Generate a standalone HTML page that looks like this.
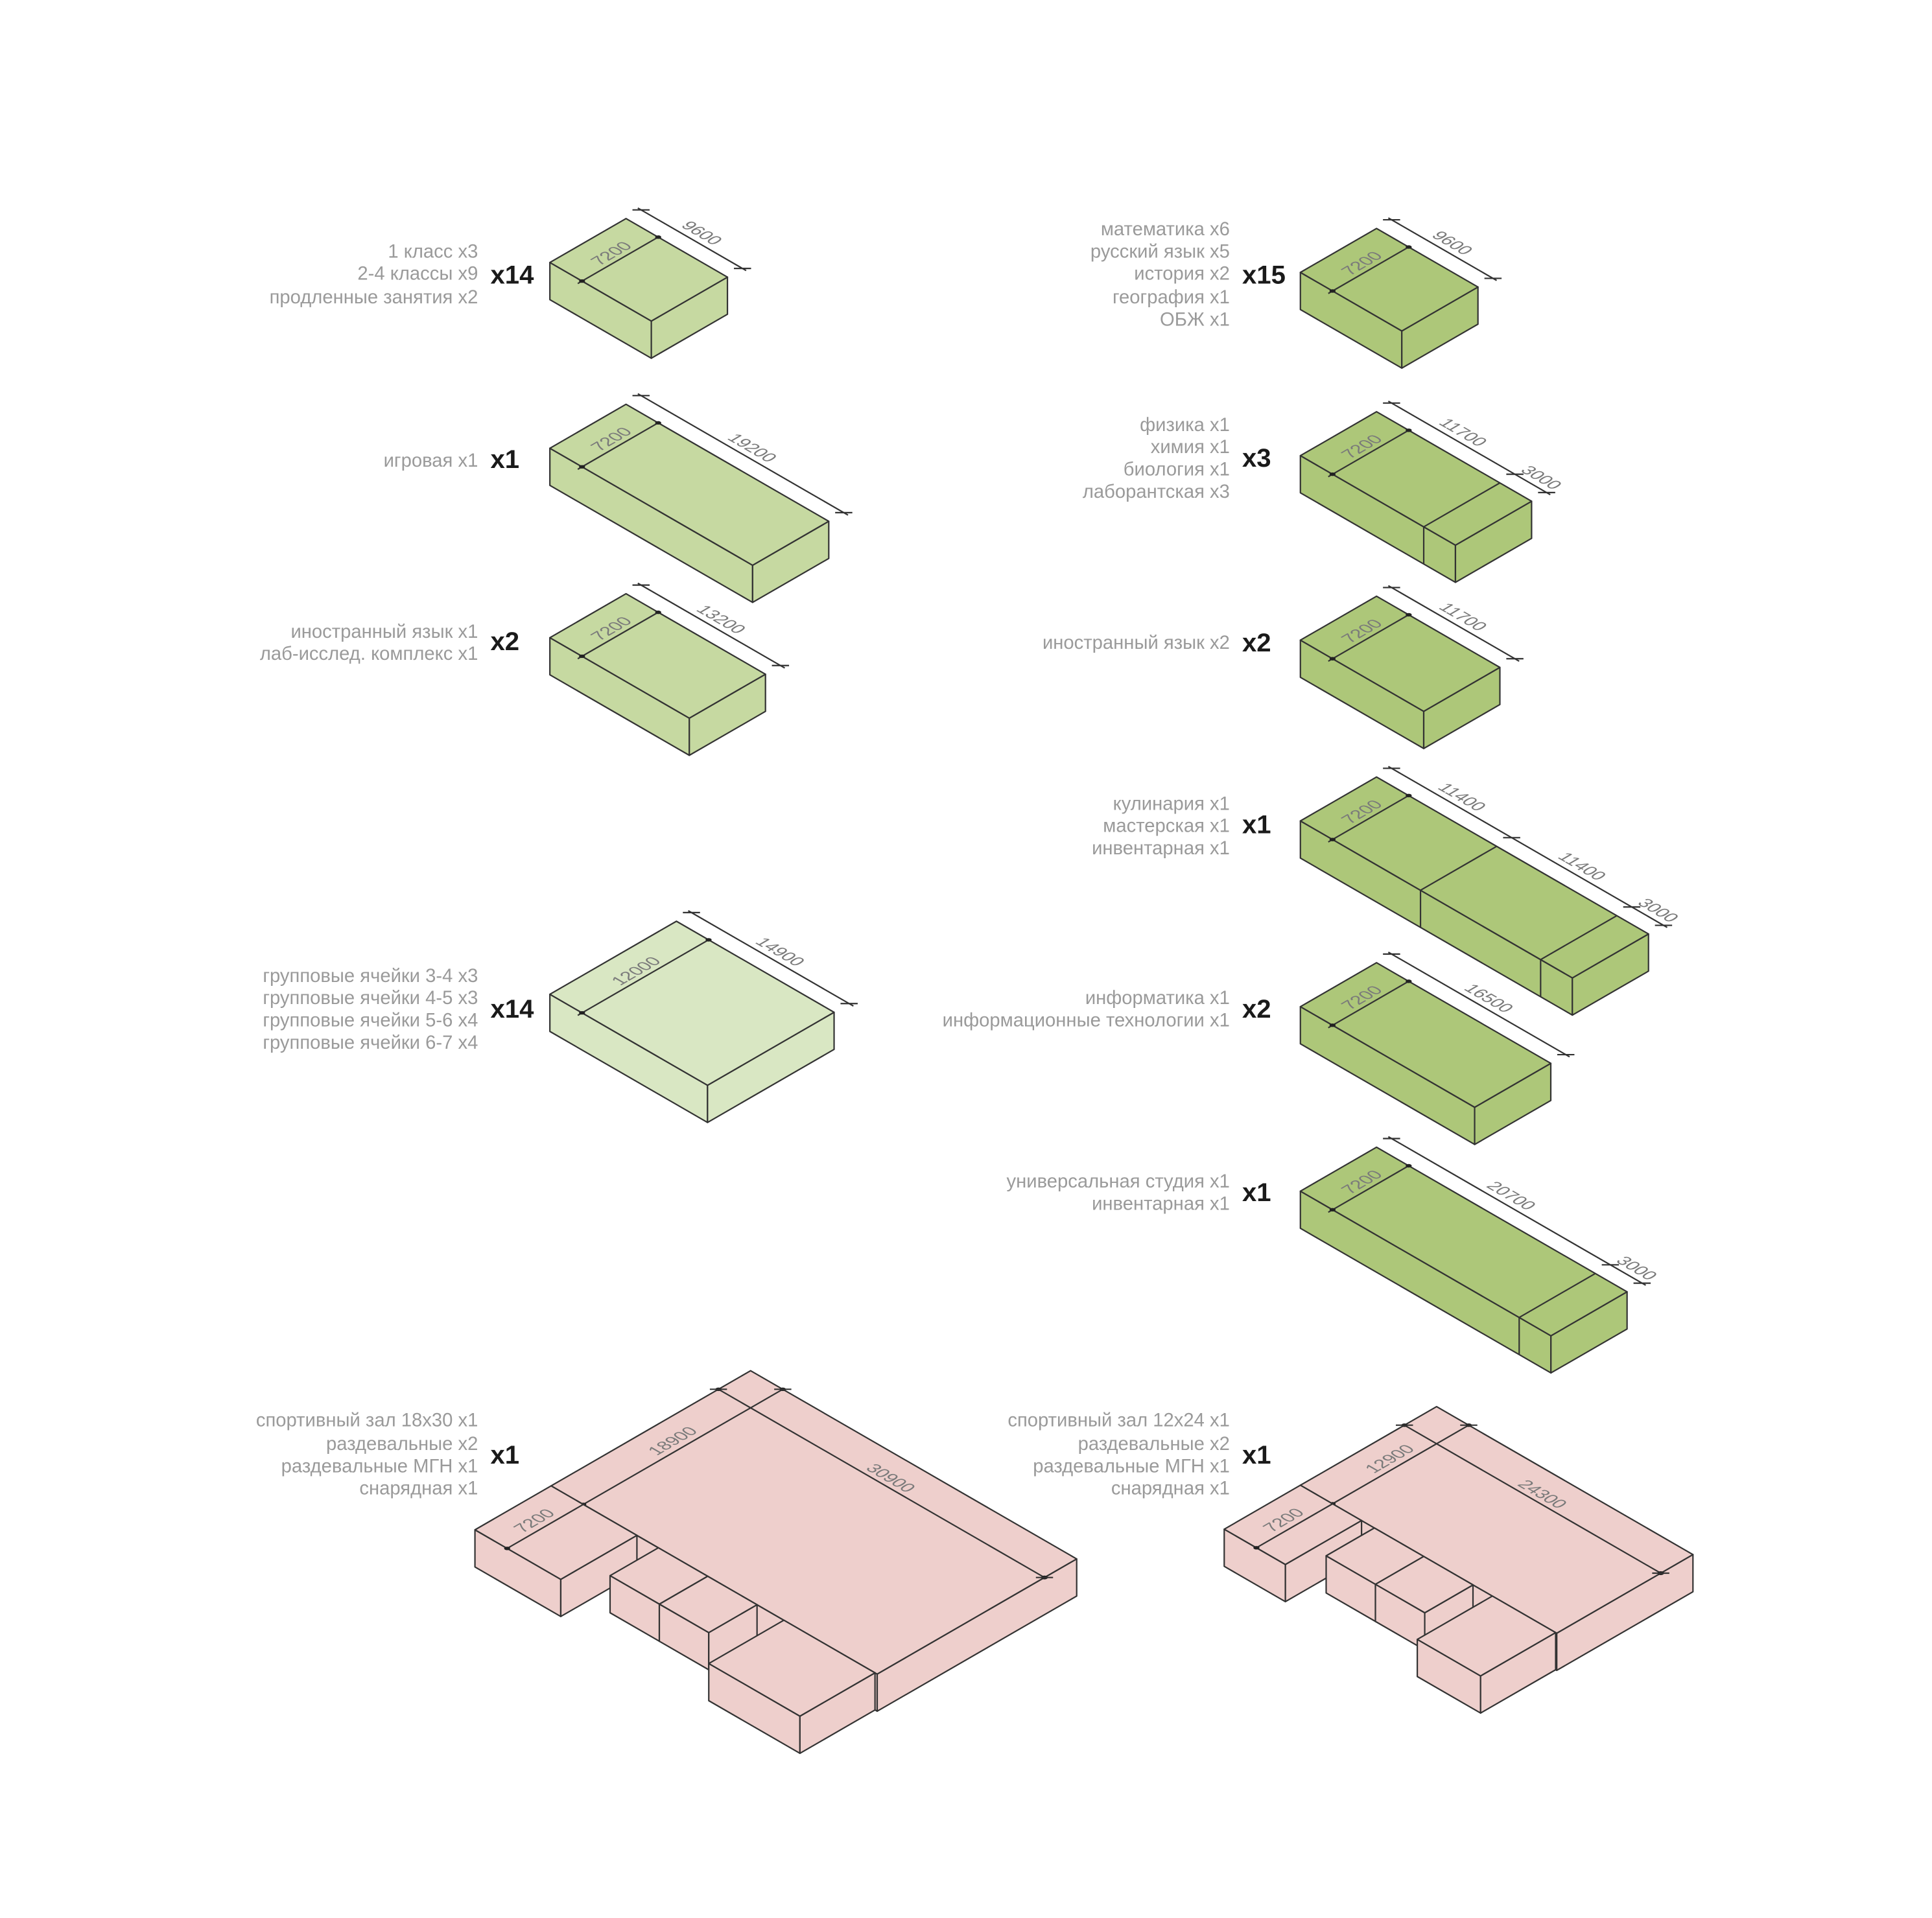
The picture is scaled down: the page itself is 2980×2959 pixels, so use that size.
<!DOCTYPE html>
<html><head><meta charset="utf-8"><style>
html,body{margin:0;padding:0;background:#fff}
svg{display:block}
rect,line,path{stroke:#333;stroke-width:2.2;vector-effect:non-scaling-stroke;stroke-linejoin:round}
.d{stroke:#333;stroke-width:2.2}
.t{font-family:"Liberation Sans",sans-serif;font-size:15.3px;fill:#9a9a9a;text-anchor:end}
.x{font-family:"Liberation Sans",sans-serif;font-size:21px;font-weight:bold;fill:#1a1a1a}
.m{font-family:"Liberation Sans",sans-serif;font-size:14px;fill:#7a7a7a;text-anchor:middle;stroke:none}
circle{fill:#222;stroke:none}
.g1{fill:#c6d9a1}.g2{fill:#d9e7c3}.g3{fill:#adc779}.p{fill:#eecfcc}
</style></head><body>
<svg width="2980" height="2959" viewBox="0 0 1560 1549" xmlns="http://www.w3.org/2000/svg">
<rect x="-10" y="-10" width="1600" height="1600" fill="#fff" style="stroke:none"/>

<text class="t" x="386" y="208">1 класс x3</text>
<text class="t" x="386" y="226">2-4 классы x9</text>
<text class="t" x="386" y="245">продленные занятия x2</text>
<text class="x" x="396" y="229">x14</text>

<text class="t" x="386" y="377">игровая x1</text>
<text class="x" x="396" y="378">x1</text>

<text class="t" x="386" y="515">иностранный язык x1</text>
<text class="t" x="386" y="533">лаб-исслед. комплекс x1</text>
<text class="x" x="396" y="525">x2</text>

<text class="t" x="386" y="793">групповые ячейки 3-4 x3</text>
<text class="t" x="386" y="811">групповые ячейки 4-5 x3</text>
<text class="t" x="386" y="829">групповые ячейки 5-6 x4</text>
<text class="t" x="386" y="847">групповые ячейки 6-7 x4</text>
<text class="x" x="396" y="822">x14</text>

<text class="t" x="386" y="1152">спортивный зал 18x30 x1</text>
<text class="t" x="386" y="1171">раздевальные x2</text>
<text class="t" x="386" y="1189">раздевальные МГН x1</text>
<text class="t" x="386" y="1207">снарядная x1</text>
<text class="x" x="396" y="1182">x1</text>

<text class="t" x="993" y="190">математика x6</text>
<text class="t" x="993" y="208">русский язык x5</text>
<text class="t" x="993" y="226">история x2</text>
<text class="t" x="993" y="245">география x1</text>
<text class="t" x="993" y="263">ОБЖ x1</text>
<text class="x" x="1003" y="229">x15</text>

<text class="t" x="993" y="348">физика x1</text>
<text class="t" x="993" y="366">химия x1</text>
<text class="t" x="993" y="384">биология x1</text>
<text class="t" x="993" y="402">лаборантская x3</text>
<text class="x" x="1003" y="377">x3</text>

<text class="t" x="993" y="524">иностранный язык x2</text>
<text class="x" x="1003" y="526">x2</text>

<text class="t" x="993" y="654">кулинария x1</text>
<text class="t" x="993" y="672">мастерская x1</text>
<text class="t" x="993" y="690">инвентарная x1</text>
<text class="x" x="1003" y="673">x1</text>

<text class="t" x="993" y="811">информатика x1</text>
<text class="t" x="993" y="829">информационные технологии x1</text>
<text class="x" x="1003" y="822">x2</text>

<text class="t" x="993" y="959">универсальная студия x1</text>
<text class="t" x="993" y="977">инвентарная x1</text>
<text class="x" x="1003" y="970">x1</text>

<text class="t" x="993" y="1152">спортивный зал 12x24 x1</text>
<text class="t" x="993" y="1171">раздевальные x2</text>
<text class="t" x="993" y="1189">раздевальные МГН x1</text>
<text class="t" x="993" y="1207">снарядная x1</text>
<text class="x" x="1003" y="1182">x1</text>

<g transform="translate(444 212)" class="g1">
<g transform="matrix(.866 .5 0 1 0 0)"><rect width="94.6" height="30"/></g>
<g transform="matrix(.866 -.5 0 1 81.9 47.3)"><rect width="71" height="30"/></g>
<g transform="matrix(.866 .5 -.866 .5 0 0)"><rect y="-71" width="94.6" height="71"/>
<line x1="30" y1="4" x2="30" y2="-71"/><circle cx="30" cy="0" r="2"/><circle cx="30" cy="-71" r="2"/>
<line class="d" x1="-3" y1="-85" x2="98" y2="-85"/><path class="d" d="M-4 -81L4 -89M90.6 -81L98.6 -89"/>
<text class="m" x="47" y="-90">9600</text><text class="m" transform="translate(26 -36) rotate(-90)">7200</text></g>
</g>

<g transform="translate(444 362)" class="g1">
<g transform="matrix(.866 .5 0 1 0 0)"><rect width="189" height="30"/></g>
<g transform="matrix(.866 -.5 0 1 163.7 94.5)"><rect width="71" height="30"/></g>
<g transform="matrix(.866 .5 -.866 .5 0 0)"><rect y="-71" width="189" height="71"/>
<line x1="30" y1="4" x2="30" y2="-71"/><circle cx="30" cy="0" r="2"/><circle cx="30" cy="-71" r="2"/>
<line class="d" x1="-3" y1="-85" x2="193" y2="-85"/><path class="d" d="M-4 -81L4 -89M185 -81L193 -89"/>
<text class="m" x="94" y="-90">19200</text><text class="m" transform="translate(26 -36) rotate(-90)">7200</text></g>
</g>

<g transform="translate(444 515)" class="g1">
<g transform="matrix(.866 .5 0 1 0 0)"><rect width="130" height="30"/></g>
<g transform="matrix(.866 -.5 0 1 112.6 65)"><rect width="71" height="30"/></g>
<g transform="matrix(.866 .5 -.866 .5 0 0)"><rect y="-71" width="130" height="71"/>
<line x1="30" y1="4" x2="30" y2="-71"/><circle cx="30" cy="0" r="2"/><circle cx="30" cy="-71" r="2"/>
<line class="d" x1="-3" y1="-85" x2="134" y2="-85"/><path class="d" d="M-4 -81L4 -89M126 -81L134 -89"/>
<text class="m" x="65" y="-90">13200</text><text class="m" transform="translate(26 -36) rotate(-90)">7200</text></g>
</g>

<g transform="translate(444 803)" class="g2">
<g transform="matrix(.866 .5 0 1 0 0)"><rect width="147" height="30"/></g>
<g transform="matrix(.866 -.5 0 1 127.3 73.5)"><rect width="118" height="30"/></g>
<g transform="matrix(.866 .5 -.866 .5 0 0)"><rect y="-118" width="147" height="118"/>
<line x1="30" y1="4" x2="30" y2="-118"/><circle cx="30" cy="0" r="2"/><circle cx="30" cy="-118" r="2"/>
<line class="d" x1="-3" y1="-132" x2="151" y2="-132"/><path class="d" d="M-4 -128L4 -136M143 -128L151 -136"/>
<text class="m" x="73" y="-137">14900</text><text class="m" transform="translate(26 -59) rotate(-90)">12000</text></g>
</g>

<g transform="translate(1050 220)" class="g3">
<g transform="matrix(.866 .5 0 1 0 0)"><rect width="94.6" height="30"/></g>
<g transform="matrix(.866 -.5 0 1 81.9 47.3)"><rect width="71" height="30"/></g>
<g transform="matrix(.866 .5 -.866 .5 0 0)"><rect y="-71" width="94.6" height="71"/>
<line x1="30" y1="4" x2="30" y2="-71"/><circle cx="30" cy="0" r="2"/><circle cx="30" cy="-71" r="2"/>
<line class="d" x1="-3" y1="-85" x2="98" y2="-85"/><path class="d" d="M-4 -81L4 -89M90.6 -81L98.6 -89"/>
<text class="m" x="47" y="-90">9600</text><text class="m" transform="translate(26 -36) rotate(-90)">7200</text></g>
</g>

<g transform="translate(1050 368)" class="g3">
<g transform="matrix(.866 .5 0 1 0 0)"><rect width="144.6" height="30"/><line x1="115" y1="0" x2="115" y2="30"/></g>
<g transform="matrix(.866 -.5 0 1 125.2 72.3)"><rect width="71" height="30"/></g>
<g transform="matrix(.866 .5 -.866 .5 0 0)"><rect y="-71" width="144.6" height="71"/><line x1="115" y1="0" x2="115" y2="-71"/>
<line x1="30" y1="4" x2="30" y2="-71"/><circle cx="30" cy="0" r="2"/><circle cx="30" cy="-71" r="2"/>
<line class="d" x1="-3" y1="-85" x2="148" y2="-85"/><path class="d" d="M-4 -81L4 -89M111 -81L119 -89M140.6 -81L148.6 -89"/>
<text class="m" x="57" y="-90">11700</text><text class="m" x="130" y="-90">3000</text><text class="m" transform="translate(26 -36) rotate(-90)">7200</text></g>
</g>

<g transform="translate(1050 517)" class="g3">
<g transform="matrix(.866 .5 0 1 0 0)"><rect width="115" height="30"/></g>
<g transform="matrix(.866 -.5 0 1 99.6 57.5)"><rect width="71" height="30"/></g>
<g transform="matrix(.866 .5 -.866 .5 0 0)"><rect y="-71" width="115" height="71"/>
<line x1="30" y1="4" x2="30" y2="-71"/><circle cx="30" cy="0" r="2"/><circle cx="30" cy="-71" r="2"/>
<line class="d" x1="-3" y1="-85" x2="119" y2="-85"/><path class="d" d="M-4 -81L4 -89M111 -81L119 -89"/>
<text class="m" x="57" y="-90">11700</text><text class="m" transform="translate(26 -36) rotate(-90)">7200</text></g>
</g>

<g transform="translate(1050 663)" class="g3">
<g transform="matrix(.866 .5 0 1 0 0)"><rect width="253.6" height="30"/><line x1="112" y1="0" x2="112" y2="30"/><line x1="224" y1="0" x2="224" y2="30"/></g>
<g transform="matrix(.866 -.5 0 1 219.6 126.8)"><rect width="71" height="30"/></g>
<g transform="matrix(.866 .5 -.866 .5 0 0)"><rect y="-71" width="253.6" height="71"/><line x1="112" y1="0" x2="112" y2="-71"/><line x1="224" y1="0" x2="224" y2="-71"/>
<line x1="30" y1="4" x2="30" y2="-71"/><circle cx="30" cy="0" r="2"/><circle cx="30" cy="-71" r="2"/>
<line class="d" x1="-3" y1="-85" x2="257" y2="-85"/><path class="d" d="M-4 -81L4 -89M108 -81L116 -89M220 -81L228 -89M249.6 -81L257.6 -89"/>
<text class="m" x="56" y="-90">11400</text><text class="m" x="168" y="-90">11400</text><text class="m" x="239" y="-90">3000</text><text class="m" transform="translate(26 -36) rotate(-90)">7200</text></g>
</g>

<g transform="translate(1050 813)" class="g3">
<g transform="matrix(.866 .5 0 1 0 0)"><rect width="162.5" height="30"/></g>
<g transform="matrix(.866 -.5 0 1 140.7 81.3)"><rect width="71" height="30"/></g>
<g transform="matrix(.866 .5 -.866 .5 0 0)"><rect y="-71" width="162.5" height="71"/>
<line x1="30" y1="4" x2="30" y2="-71"/><circle cx="30" cy="0" r="2"/><circle cx="30" cy="-71" r="2"/>
<line class="d" x1="-3" y1="-85" x2="166" y2="-85"/><path class="d" d="M-4 -81L4 -89M158.5 -81L166.5 -89"/>
<text class="m" x="81" y="-90">16500</text><text class="m" transform="translate(26 -36) rotate(-90)">7200</text></g>
</g>

<g transform="translate(1050 962)" class="g3">
<g transform="matrix(.866 .5 0 1 0 0)"><rect width="233.6" height="30"/><line x1="204" y1="0" x2="204" y2="30"/></g>
<g transform="matrix(.866 -.5 0 1 202.3 116.8)"><rect width="71" height="30"/></g>
<g transform="matrix(.866 .5 -.866 .5 0 0)"><rect y="-71" width="233.6" height="71"/><line x1="204" y1="0" x2="204" y2="-71"/>
<line x1="30" y1="4" x2="30" y2="-71"/><circle cx="30" cy="0" r="2"/><circle cx="30" cy="-71" r="2"/>
<line class="d" x1="-3" y1="-85" x2="237" y2="-85"/><path class="d" d="M-4 -81L4 -89M200 -81L208 -89M229.6 -81L237.6 -89"/>
<text class="m" x="102" y="-90">20700</text><text class="m" x="219" y="-90">3000</text><text class="m" transform="translate(26 -36) rotate(-90)">7200</text></g>
</g>

<g class="p">
<g transform="matrix(.866 .5 0 1 445 1200)"><rect width="304" height="30"/></g>
<g transform="matrix(.866 -.5 0 1 708.3 1352)"><rect width="186" height="30"/></g>
<g transform="matrix(.866 .5 -.866 .5 445 1200)"><rect y="-186" width="304" height="186"/>
<line x1="30" y1="0" x2="30" y2="-186"/><line x1="0" y1="-156" x2="304" y2="-156"/>
<circle cx="30" cy="0" r="2"/><circle cx="304" cy="-156" r="2.2"/><circle cx="0" cy="-156" r="2"/><circle cx="30" cy="-186" r="2"/>
<path class="d" d="M-4 -152L4 -160M26 -182L34 -190M300 -152L308 -160"/>
<text class="m" transform="translate(25 -93) rotate(-90)">18900</text><text class="m" x="152" y="-160">30900</text></g>
</g>
<g class="p">
<g transform="matrix(.866 .5 0 1 383.5 1235.5)"><rect width="80" height="30"/></g>
<g transform="matrix(.866 -.5 0 1 452.8 1275.5)"><rect width="71" height="30"/></g>
<g transform="matrix(.866 .5 -.866 .5 445 1200)"><rect x="0" y="0" width="80" height="71"/><line x1="30" y1="0" x2="30" y2="71"/><circle cx="30" cy="71" r="2"/><text class="m" transform="translate(25 36) rotate(-90)">7200</text></g>
</g>
<g class="p">
<g transform="matrix(.866 .5 0 1 492.6 1272.5)"><rect width="46" height="30"/></g>
<g transform="matrix(.866 -.5 0 1 532.4 1295.5)"><rect width="45" height="30"/></g>
<g transform="matrix(.866 .5 -.866 .5 445 1200)"><rect x="100" y="0" width="46" height="45"/></g>
</g>
<g class="p">
<g transform="matrix(.866 .5 0 1 532.4 1295.5)"><rect width="46" height="30"/></g>
<g transform="matrix(.866 -.5 0 1 572.3 1318.5)"><rect width="45" height="30"/></g>
<g transform="matrix(.866 .5 -.866 .5 445 1200)"><rect x="146" y="0" width="46" height="45"/></g>
</g>
<g class="p">
<g transform="matrix(.866 .5 0 1 572.3 1343.5)"><rect width="85" height="30"/></g>
<g transform="matrix(.866 -.5 0 1 645.9 1386)"><rect width="70" height="30"/></g>
<g transform="matrix(.866 .5 -.866 .5 445 1200)"><rect x="217" y="0" width="85" height="70"/></g>
</g>

<g class="p">
<g transform="matrix(.866 .5 0 1 1050 1199.5)"><rect width="239" height="30"/></g>
<g transform="matrix(.866 -.5 0 1 1257 1319)"><rect width="127" height="30"/></g>
<g transform="matrix(.866 .5 -.866 .5 1050 1199.5)"><rect y="-127" width="239" height="127"/>
<line x1="30" y1="0" x2="30" y2="-127"/><line x1="0" y1="-97" x2="239" y2="-97"/>
<circle cx="30" cy="0" r="2"/><circle cx="239" cy="-97" r="2.2"/><circle cx="0" cy="-97" r="2"/><circle cx="30" cy="-127" r="2"/>
<path class="d" d="M-4 -93L4 -101M26 -123L34 -131M235 -93L243 -101"/>
<text class="m" transform="translate(25 -63) rotate(-90)">12900</text><text class="m" x="120" y="-101">24300</text></g>
</g>
<g class="p">
<g transform="matrix(.866 .5 0 1 988.5 1235)"><rect width="57" height="30"/></g>
<g transform="matrix(.866 -.5 0 1 1037.9 1263.5)"><rect width="71" height="30"/></g>
<g transform="matrix(.866 .5 -.866 .5 1050 1199.5)"><rect x="0" y="0" width="57" height="71"/><line x1="30" y1="0" x2="30" y2="71"/><circle cx="30" cy="71" r="2"/><text class="m" transform="translate(25 36) rotate(-90)">7200</text></g>
</g>
<g class="p">
<g transform="matrix(.866 .5 0 1 1070.8 1256.5)"><rect width="46" height="30"/></g>
<g transform="matrix(.866 -.5 0 1 1110.6 1279.5)"><rect width="45" height="30"/></g>
<g transform="matrix(.866 .5 -.866 .5 1050 1199.5)"><rect x="69" y="0" width="46" height="45"/></g>
</g>
<g class="p">
<g transform="matrix(.866 .5 0 1 1110.6 1279.5)"><rect width="46" height="30"/></g>
<g transform="matrix(.866 -.5 0 1 1150.4 1302.5)"><rect width="45" height="30"/></g>
<g transform="matrix(.866 .5 -.866 .5 1050 1199.5)"><rect x="115" y="0" width="46" height="45"/></g>
</g>
<g class="p">
<g transform="matrix(.866 .5 0 1 1144.4 1324)"><rect width="59" height="30"/></g>
<g transform="matrix(.866 -.5 0 1 1195.5 1353.5)"><rect width="70" height="30"/></g>
<g transform="matrix(.866 .5 -.866 .5 1050 1199.5)"><rect x="179" y="0" width="59" height="70"/></g>
</g>
</svg>
</body></html>
